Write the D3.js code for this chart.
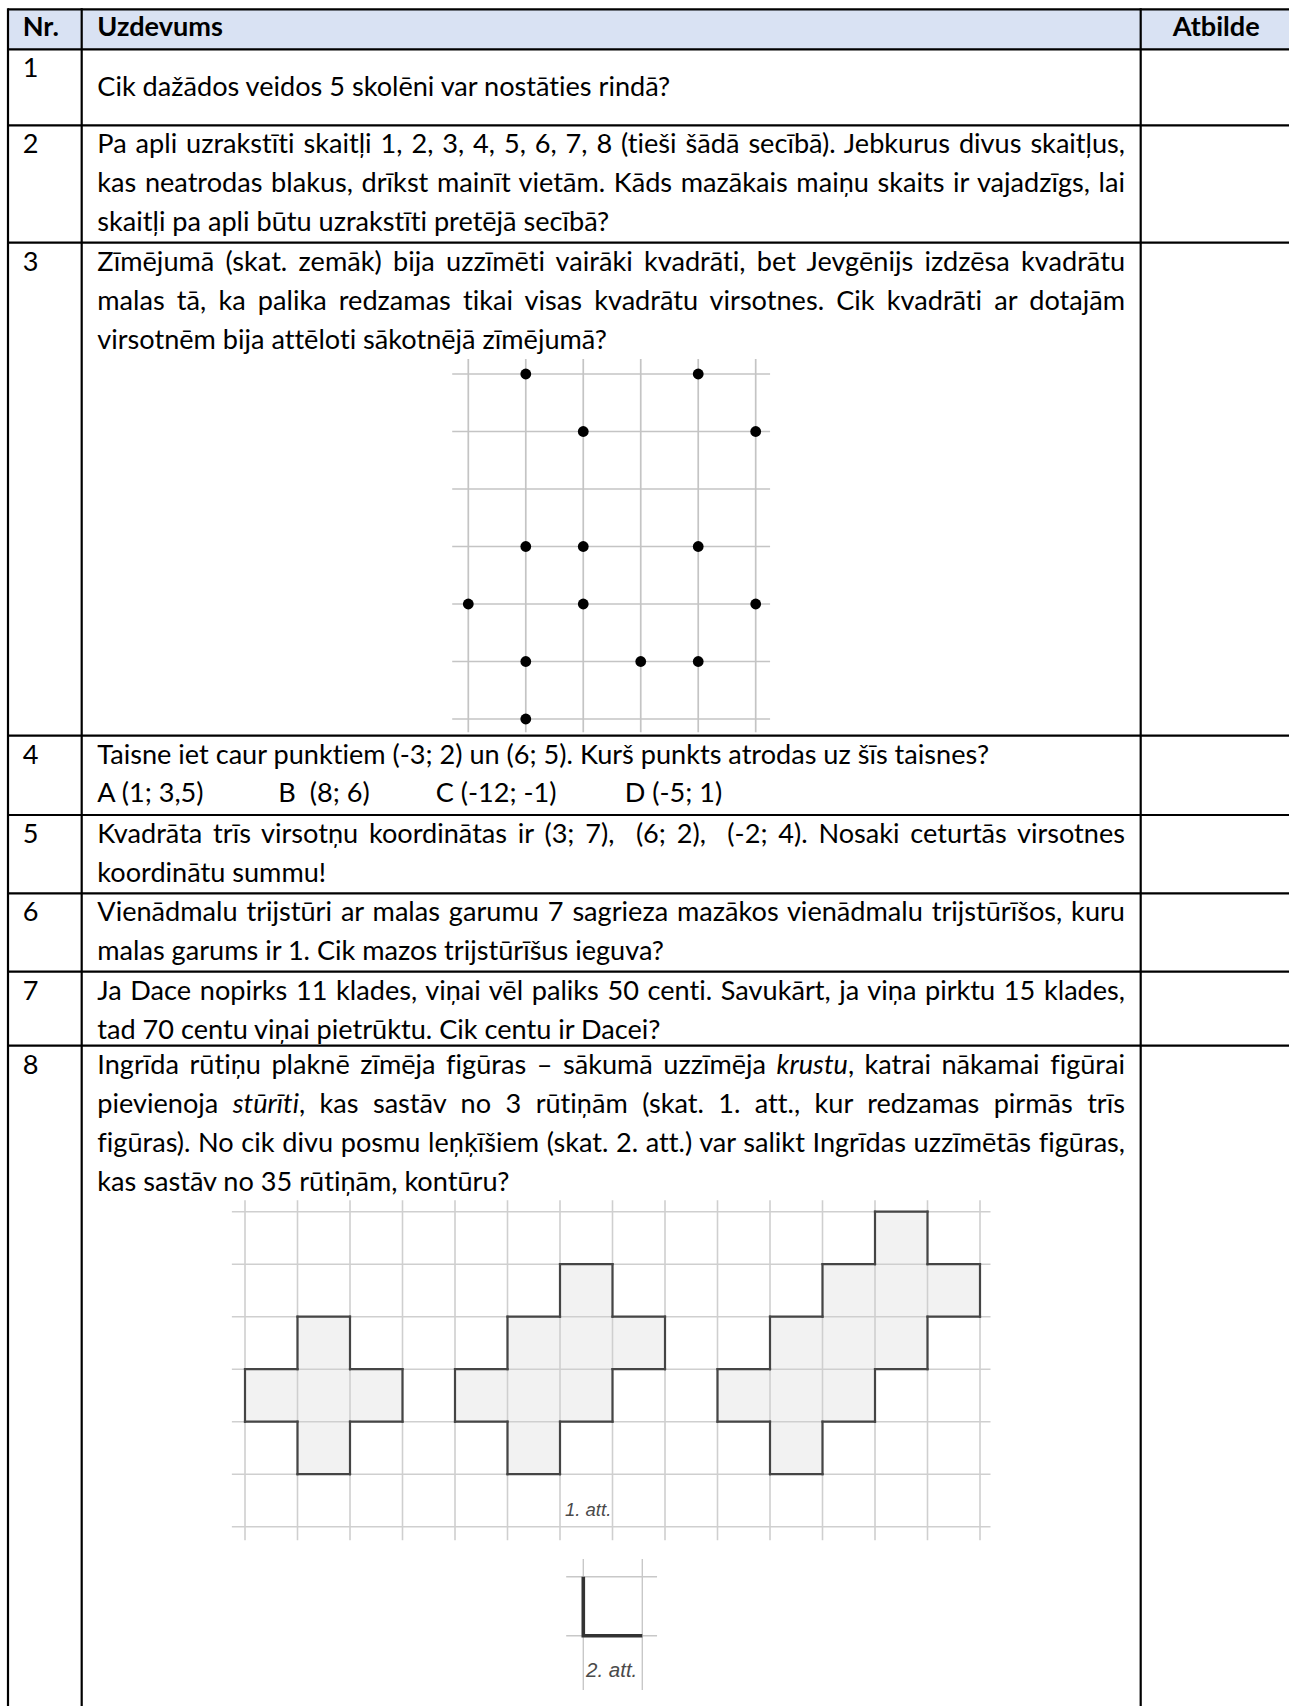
<!DOCTYPE html>
<html>
<head>
    <meta charset="utf-8">
    <title>Uzdevumi</title>
    <style>
        body {
            margin: 0;
            background: #fff;
        }

        svg text {
            font-family: 'Lato', 'Open Sans', sans-serif;
            fill: #000;
            white-space: pre;
            font-variant-ligatures: none;
        }

        .head {
            font-weight: bold;
        }

        .cap {
            font-family: 'Liberation Sans', Arial, sans-serif;
            font-style: italic;
            fill: #4a4a4a;
        }
    </style>
    <script src="https://cdnjs.cloudflare.com/ajax/libs/d3/7.8.5/d3.min.js"></script>
</head>
<body>
<div id="sheet"></div>
<script>
    // ---- table content ----
    const headers = ['Nr.', 'Uzdevums', 'Atbilde'];
    const taskNumbers = ['1', '2', '3', '4', '5', '6', '7', '8'];
    const taskLines = [
        ['Cik dažādos veidos 5 skolēni var nostāties rindā?'],
        ['Pa apli uzrakstīti skaitļi 1, 2, 3, 4, 5, 6, 7, 8 (tieši šādā secībā). Jebkurus divus skaitļus,',
            'kas neatrodas blakus, drīkst mainīt vietām. Kāds mazākais maiņu skaits ir vajadzīgs, lai',
            'skaitļi pa apli būtu uzrakstīti pretējā secībā?'],
        ['Zīmējumā (skat. zemāk) bija uzzīmēti vairāki kvadrāti, bet Jevgēnijs izdzēsa kvadrātu',
            'malas tā, ka palika redzamas tikai visas kvadrātu virsotnes. Cik kvadrāti ar dotajām',
            'virsotnēm bija attēloti sākotnējā zīmējumā?'],
        ['Taisne iet caur punktiem (-3; 2) un (6; 5). Kurš punkts atrodas uz šīs taisnes?'],
        ['Kvadrāta trīs virsotņu koordinātas ir (3; 7),  (6; 2),  (-2; 4). Nosaki ceturtās virsotnes',
            'koordinātu summu!'],
        ['Vienādmalu trijstūri ar malas garumu 7 sagrieza mazākos vienādmalu trijstūrīšos, kuru',
            'malas garums ir 1. Cik mazos trijstūrīšus ieguva?'],
        ['Ja Dace nopirks 11 klades, viņai vēl paliks 50 centi. Savukārt, ja viņa pirktu 15 klades,',
            'tad 70 centu viņai pietrūktu. Cik centu ir Dacei?'],
        ['Ingrīda rūtiņu plaknē zīmēja figūras – sākumā uzzīmēja *krustu*, katrai nākamai figūrai',
            'pievienoja *stūrīti*, kas sastāv no 3 rūtiņām (skat. 1. att., kur redzamas pirmās trīs',
            'figūras). No cik divu posmu leņķīšiem (skat. 2. att.) var salikt Ingrīdas uzzīmētās figūras,',
            'kas sastāv no 35 rūtiņām, kontūru?']
    ];
    // how many lines of each task are justified to the full column width
    const justifiedCount = [0, 2, 2, 0, 1, 1, 1, 3];
    const task4Options = ['A (1; 3,5)', 'B  (8; 6)', 'C (-12; -1)', 'D (-5; 1)'];

    // ---- task 3: square vertices on a 6 x 7 grid ----
    const dotCols = d3.range(6);
    const dotRows = d3.range(7);
    const dots = [[1, 0], [4, 0], [2, 1], [5, 1], [1, 3], [2, 3], [4, 3],
        [0, 4], [2, 4], [5, 4], [1, 5], [3, 5], [4, 5], [1, 6]];

    // ---- task 8: figures on a 15 x 7 line grid ----
    const bigCols = d3.range(15);
    const bigRows = d3.range(7);
    const figure1 = [[1, 2], [0, 3], [1, 3], [2, 3], [1, 4]];
    const figure2 = [[6, 1], [5, 2], [6, 2], [7, 2], [4, 3], [5, 3], [6, 3], [5, 4]];
    const figure3 = [[12, 0], [11, 1], [12, 1], [13, 1], [10, 2], [11, 2], [12, 2],
        [9, 3], [10, 3], [11, 3], [10, 4]];
    const cornerPath = [[0, 0], [0, 1], [1, 1]];
    const captions = ['1. att.', '2. att.'];

    // ---- layout ----
    const W = 1289, H = 1706;
    const colEdges = [8, 81.7, 1140.7, 1291];
    const tableTop = 9.3;
    const rowHeights = [40, 76, 117.4, 493, 79.3, 78.3, 78.4, 74, 700];
    const rowTops = [tableTop];
    rowHeights.forEach(h => rowTops.push(rowTops[rowTops.length - 1] + h));
    const textLeft = 97.3, textRight = 1125, numLeft = 22.7;
    const lineHeight = 39, firstBase = 27.8;
    const optionStops = [97.3, 278.3, 435.7, 624.7];

    const svg = d3.select('#sheet').append('svg')
        .attr('width', W)
        .attr('height', H);

    // font size picked so that the single-line task 1 matches its width
    const probe = svg.append('text').style('font-size', '20px').text(taskLines[0][0]);
    const fs = 20 * 573 / probe.node().getComputedTextLength();
    probe.remove();

    // header fill
    svg.append('rect')
        .attr('x', colEdges[0]).attr('y', rowTops[0])
        .attr('width', colEdges[3] - colEdges[0]).attr('height', rowHeights[0])
        .attr('fill', '#d9e2f3');

    function addLine(sel, str, x, y, justify) {
        const t = sel.append('text').attr('x', x).attr('y', y).style('font-size', fs + 'px');
        str.split('*').forEach((part, k) => {
            t.append('tspan').text(part).style('font-style', k % 2 ? 'italic' : null);
        });
        if (justify) {
            const natural = t.node().getComputedTextLength();
            const spaces = (str.match(/ /g) || []).length;
            t.style('word-spacing', ((textRight - x - natural) / spaces) + 'px');
        }
        return t;
    }

    // header
    const headX = [numLeft, textLeft, 1172.7];
    headers.forEach((h, i) => {
        svg.append('text').attr('class', 'head')
            .attr('x', headX[i]).attr('y', rowTops[0] + 26.7)
            .style('font-size', fs + 'px')
            .text(h);
    });

    // numbers and task texts
    taskNumbers.forEach((n, i) => {
        const top = rowTops[i + 1];
        svg.append('text').attr('x', numLeft).attr('y', top + (i === 0 ? 27.4 : firstBase))
            .style('font-size', fs + 'px').text(n);
        const base = i === 0 ? top + 46.7 : top + firstBase;
        taskLines[i].forEach((line, k) => {
            addLine(svg, line, textLeft, base + k * lineHeight, k < justifiedCount[i]);
        });
    });

    // task 4 answer options on tab stops
    task4Options.forEach((o, i) => {
        svg.append('text').attr('x', optionStops[i]).attr('y', rowTops[4] + firstBase + lineHeight - 0.5)
            .style('font-size', fs + 'px').text(o);
    });

    // ---- task 3 dot grid ----
    const dx = d3.scaleLinear().domain([0, 5]).range([468.3, 755.7]);
    const dy = d3.scaleLinear().domain([0, 6]).range([374, 719]);
    const g3 = svg.append('g');
    g3.selectAll('line.v').data(dotCols).join('line').attr('class', 'v')
        .attr('x1', d => dx(d)).attr('x2', d => dx(d))
        .attr('y1', dy(-0.26)).attr('y2', dy(6.23))
        .attr('stroke', '#c4c4c4').attr('stroke-width', 1.7);
    g3.selectAll('line.h').data(dotRows).join('line').attr('class', 'h')
        .attr('x1', dx(-0.28)).attr('x2', dx(5.25))
        .attr('y1', d => dy(d)).attr('y2', d => dy(d))
        .attr('stroke', '#c4c4c4').attr('stroke-width', 1.7);
    g3.selectAll('circle').data(dots).join('circle')
        .attr('cx', d => dx(d[0])).attr('cy', d => dy(d[1]))
        .attr('r', 5.4).attr('fill', '#000');

    // ---- task 8 figures ----
    const bx = d3.scaleLinear().domain([0, 14]).range([245, 980]);
    const by = d3.scaleLinear().domain([0, 6]).range([1211.7, 1526.7]);
    const g8 = svg.append('g');
    const figures = [figure1, figure2, figure3];

    figures.forEach(cells => {
        g8.append('g').selectAll('rect').data(cells).join('rect')
            .attr('x', d => bx(d[0])).attr('y', d => by(d[1]))
            .attr('width', bx(1) - bx(0)).attr('height', by(1) - by(0))
            .attr('fill', '#f2f2f2');
    });

    g8.selectAll('line.v').data(bigCols).join('line').attr('class', 'v')
        .attr('x1', d => bx(d)).attr('x2', d => bx(d))
        .attr('y1', by(-0.22)).attr('y2', by(6.26))
        .attr('stroke', '#cfcfcf').attr('stroke-width', 1.6);
    g8.selectAll('line.h').data(bigRows).join('line').attr('class', 'h')
        .attr('x1', bx(-0.25)).attr('x2', bx(14.2))
        .attr('y1', d => by(d)).attr('y2', d => by(d))
        .attr('stroke', '#cfcfcf').attr('stroke-width', 1.6);

    // outline: cell sides with no neighbour in the figure
    figures.forEach(cells => {
        const has = (c, r) => cells.some(d => d[0] === c && d[1] === r);
        const edges = [];
        cells.forEach(([c, r]) => {
            if (!has(c, r - 1)) edges.push([c, r, c + 1, r]);
            if (!has(c, r + 1)) edges.push([c, r + 1, c + 1, r + 1]);
            if (!has(c - 1, r)) edges.push([c, r, c, r + 1]);
            if (!has(c + 1, r)) edges.push([c + 1, r, c + 1, r + 1]);
        });
        g8.append('g').selectAll('line').data(edges).join('line')
            .attr('x1', d => bx(d[0])).attr('y1', d => by(d[1]))
            .attr('x2', d => bx(d[2])).attr('y2', d => by(d[3]))
            .attr('stroke', '#454545').attr('stroke-width', 2.2)
            .attr('stroke-linecap', 'square');
    });

    svg.append('text').attr('class', 'cap')
        .attr('x', 565).attr('y', 1516)
        .style('font-size', '18.5px').text(captions[0]);

    // ---- task 8 small corner figure ----
    const sx = d3.scaleLinear().domain([0, 1]).range([583.3, 642.3]);
    const sy = d3.scaleLinear().domain([0, 1]).range([1576.7, 1635.7]);
    const gs = svg.append('g');
    gs.selectAll('line.v').data([0, 1]).join('line').attr('class', 'v')
        .attr('x1', d => sx(d)).attr('x2', d => sx(d))
        .attr('y1', sy(-0.3)).attr('y2', sy(1.92))
        .attr('stroke', '#c8c8c8').attr('stroke-width', 1.4);
    gs.selectAll('line.h').data([0, 1]).join('line').attr('class', 'h')
        .attr('x1', sx(-0.29)).attr('x2', sx(1.25))
        .attr('y1', d => sy(d)).attr('y2', d => sy(d))
        .attr('stroke', '#c8c8c8').attr('stroke-width', 1.4);
    gs.append('path')
        .attr('d', d3.line().x(d => sx(d[0])).y(d => sy(d[1]))(cornerPath))
        .attr('fill', 'none').attr('stroke', '#333').attr('stroke-width', 3.6)
        .attr('stroke-linejoin', 'miter');
    svg.append('text').attr('class', 'cap')
        .attr('x', 586).attr('y', 1676.7)
        .style('font-size', '20.5px').text(captions[1]);

    // ---- table rules ----
    const rules = svg.append('g').attr('stroke', '#000').attr('stroke-width', 2.2);
    rules.selectAll('line.h').data(rowTops.slice(0, 9)).join('line').attr('class', 'h')
        .attr('x1', colEdges[0]).attr('x2', colEdges[3])
        .attr('y1', d => d).attr('y2', d => d);
    rules.selectAll('line.v').data(colEdges).join('line').attr('class', 'v')
        .attr('x1', d => d).attr('x2', d => d)
        .attr('y1', tableTop - 1.1).attr('y2', H + 10);
</script>
</body>
</html>
